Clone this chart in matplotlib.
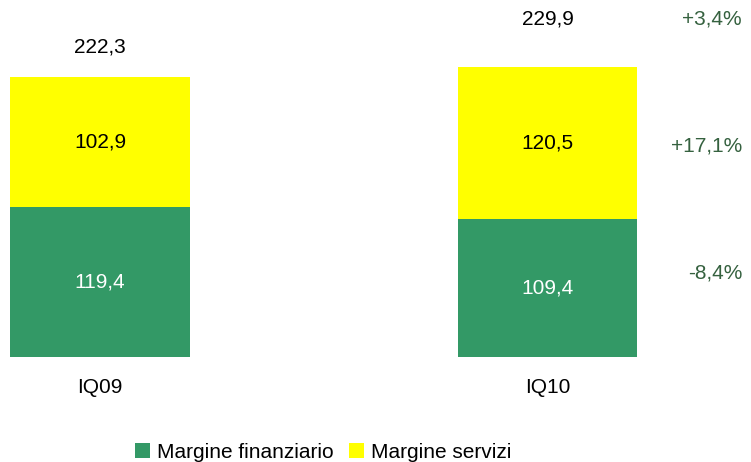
import matplotlib
matplotlib.use("Agg")
import matplotlib.pyplot as plt
from matplotlib.patches import Patch

categories = ["IQ09", "IQ10"]
margine_finanziario = [119.4, 109.4]
margine_servizi = [102.9, 120.5]
totals = [222.3, 229.9]
variations = ["+3,4%", "+17,1%", "-8,4%"]
series_names = ["Margine finanziario", "Margine servizi"]

GREEN = "#339966"
YELLOW = "#FFFF00"
PCT = "#35613F"
FONT = "Liberation Sans"
FS = 15

W, H = 751, 462
fig = plt.figure(figsize=(W / 100, H / 100), dpi=100)
base_px = 357
ax = fig.add_axes([0, (H - base_px) / H, 1, base_px / H])
ppu = 1.26
ax.set_ylim(0, base_px / ppu)
ax.set_xlim(-100 / 447.5, (W - 100) / 447.5)

x = list(range(len(categories)))
fmt = lambda v: f"{v:.1f}".replace(".", ",")

ax.bar(x, margine_finanziario, width=0.402, color=GREEN, linewidth=0)
ax.bar(x, margine_servizi, width=0.402, bottom=margine_finanziario, color=YELLOW, linewidth=0)

for i in x:
    ax.text(i, margine_finanziario[i] / 2, fmt(margine_finanziario[i]), ha="center", va="center",
            color="white", fontsize=FS, family=FONT)
    ax.text(i, margine_finanziario[i] + margine_servizi[i] / 2, fmt(margine_servizi[i]),
            ha="center", va="center", color="black", fontsize=FS, family=FONT)

# total labels (pixel offsets above bar top)
total_pad_px = [30, 48]
for i in x:
    ax.text(i, totals[i] + total_pad_px[i] / ppu, fmt(totals[i]), ha="center", va="center",
            color="black", fontsize=FS, family=FONT)

# variation labels on the right
pct_x = (742 - 100) / 447.5
pct_y_px = [19, 146, 273]
for lbl, ypx in zip(variations, pct_y_px):
    ax.text(pct_x, (base_px - ypx) / ppu, lbl, ha="right", va="center", color=PCT,
            fontsize=FS, family=FONT)

ax.set_xticks(x)
ax.set_xticklabels(categories, fontsize=FS, family=FONT)
ax.tick_params(axis="x", length=0, pad=15)
ax.set_yticks([])
for s in ax.spines.values():
    s.set_visible(False)

handles = [Patch(facecolor=GREEN, edgecolor="none"), Patch(facecolor=YELLOW, edgecolor="none")]
fig.legend(handles, series_names, loc="center", bbox_to_anchor=(323.5 / W, 1 - 452 / H),
           ncol=2, frameon=False, prop={"family": FONT, "size": FS},
           handlelength=0.7, handleheight=0.7, handletextpad=0.35, columnspacing=0.75,
           borderpad=0, borderaxespad=0)

fig.savefig("out.png", dpi=100)
